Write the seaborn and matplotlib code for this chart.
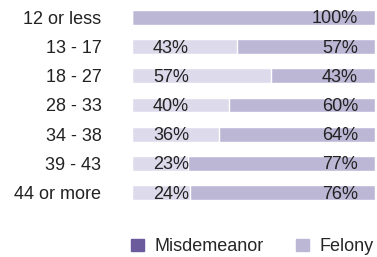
import matplotlib
matplotlib.use("Agg")
import matplotlib.pyplot as plt
import seaborn as sns
import pandas as pd
from matplotlib.patches import Patch

age_groups = ["12 or less", "13 - 17", "18 - 27", "28 - 33", "34 - 38", "39 - 43", "44 or more"]
misdemeanor = [0, 43, 57, 40, 36, 23, 24]
felony = [100, 57, 43, 60, 64, 77, 76]

sns.set_theme(style="white")
plt.rcParams["font.family"] = ["Liberation Sans", "DejaVu Sans"]

df = pd.DataFrame({"age": age_groups, "mis": misdemeanor, "fel": felony})
df["total"] = df["mis"] + df["fel"]

c_left = "#dddbeb"
c_right = "#bdb7d6"
c_dark = "#6b5b9d"
fs = 13

fig = plt.figure(figsize=(3.77, 2.57), dpi=100)
ax = fig.add_axes([0.350, 0.1942, 0.645, 0.7945])

sns.barplot(data=df, x="total", y="age", color=c_right, width=0.51,
            saturation=1, ax=ax, orient="h")
sns.barplot(data=df, x="mis", y="age", color=c_left, width=0.51,
            saturation=1, ax=ax, orient="h")

ax.set_xlim(0, 100)
ax.set_ylim(6.5, -0.5)
ax.set_xlabel("")
ax.set_ylabel("")
ax.set_xticks([])
ax.tick_params(axis="y", length=0, pad=22, labelsize=fs, labelcolor="#222222")
for s in ax.spines.values():
    s.set_visible(False)

# percentage labels
for i, row in df.iterrows():
    if row["mis"] > 0:
        ax.annotate(f"{row['mis']}%", xy=(0, i), xytext=(21, -1.5),
                    textcoords="offset pixels", ha="left", va="center",
                    fontsize=fs, color="#222222")
    ax.annotate(f"{row['fel']}%", xy=(100, i), xytext=(-17, -1.5),
                textcoords="offset pixels", ha="right", va="center",
                fontsize=fs, color="#222222")

handles = [Patch(color=c_dark, label="Misdemeanor"),
           Patch(color=c_right, label="Felony")]
fig.legend(handles=handles, loc="center right", bbox_to_anchor=(0.992, 0.039),
           ncol=2, frameon=False, fontsize=fs, handlelength=0.7,
           handleheight=0.7, handletextpad=0.6, columnspacing=1.8,
           borderaxespad=0, borderpad=0)

fig.savefig("out.png", dpi=100)
